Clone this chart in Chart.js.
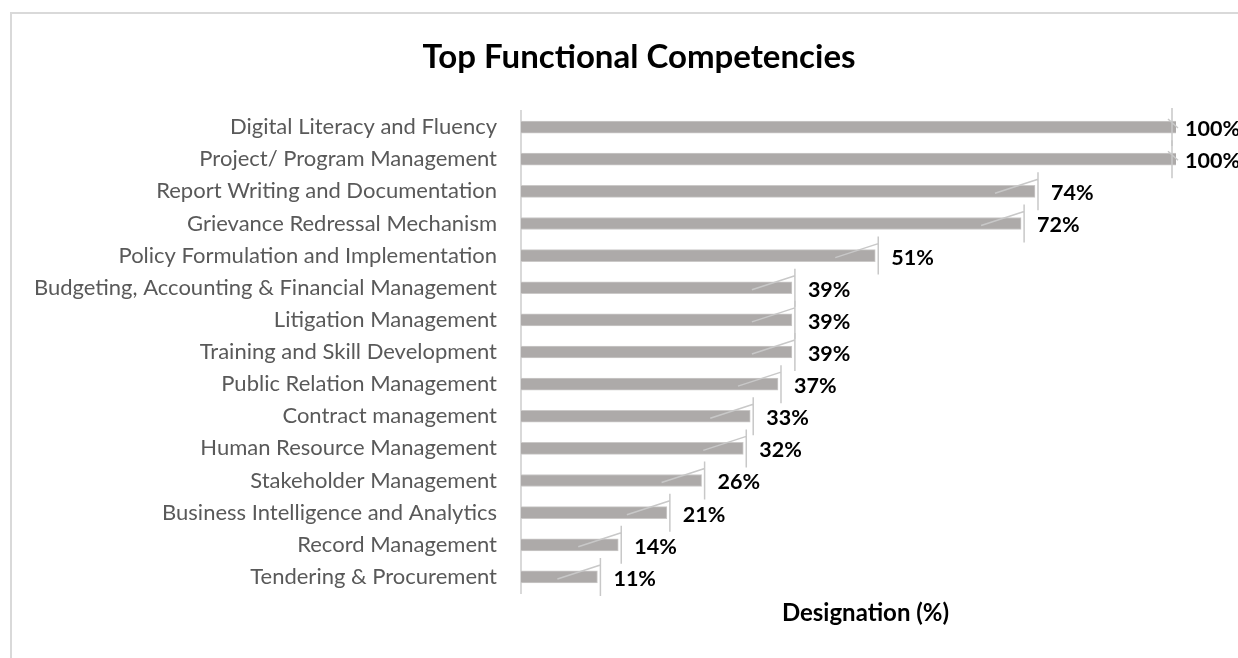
<!DOCTYPE html>
<html>
<head>
<meta charset="utf-8">
<script src="https://cdn.jsdelivr.net/npm/chart.js@4"></script>
<style>
  html, body { margin: 0; padding: 0; background: #fff; overflow: hidden; }
  #frame { position: absolute; left: 10px; top: 12px; width: 1240px; height: 660px; border: 2px solid #d9d9d9; box-sizing: border-box; }
  #wrap { position: absolute; left: 0; top: 0; width: 1238px; height: 658px; }
</style>
</head>
<body>
<div id="frame"></div>
<div id="wrap"><canvas id="chart"></canvas></div>
<script>
// competencies, top to bottom
const competencies = [
  'Digital Literacy and Fluency',
  'Project/ Program Management',
  'Report Writing and Documentation',
  'Grievance Redressal Mechanism',
  'Policy Formulation and Implementation',
  'Budgeting, Accounting & Financial Management',
  'Litigation Management',
  'Training and Skill Development',
  'Public Relation Management',
  'Contract management',
  'Human Resource Management',
  'Stakeholder Management',
  'Business Intelligence and Analytics',
  'Record Management',
  'Tendering & Procurement'
];
const designationPct = [100, 100, 74, 72, 51, 39, 39, 39, 37, 33, 32, 26, 21, 14, 11];
const chartTitle = 'Top Functional Competencies';
const axisTitle = 'Designation (%)';

const FONT = 'Lato, "Open Sans", sans-serif';

// data labels with small leader lines, like the office export,
// plus the two titles (placed off-centre as in the reference)
const labelPlugin = {
  id: 'barLabels',
  afterDatasetsDraw(chart) {
    const ctx = chart.ctx;
    const area = chart.chartArea;
    const meta = chart.getDatasetMeta(0);
    ctx.save();
    meta.data.forEach((bar, i) => {
      const clipped = bar.x > area.right;
      const end = Math.min(bar.x, area.right);
      const top = bar.y - bar.height / 2;
      const bottom = bar.y + bar.height / 2;
      ctx.strokeStyle = '#c8c8c8';
      ctx.lineWidth = 1.5;
      ctx.beginPath();
      if (clipped) {
        ctx.moveTo(end - 4, top - 13);
        ctx.lineTo(end - 4, bottom + 13);
        ctx.moveTo(end - 8, top - 2);
        ctx.lineTo(end + 2, bar.y + 1);
      } else {
        ctx.moveTo(end + 3, top - 13);
        ctx.lineTo(end + 3, bottom + 13);
        ctx.moveTo(end - 40, bar.y + 2);
        ctx.lineTo(end + 3, top - 6);
      }
      ctx.stroke();
      ctx.fillStyle = '#000';
      ctx.font = 'bold 21.5px ' + FONT;
      ctx.textBaseline = 'middle';
      ctx.textAlign = 'left';
      ctx.fillText(designationPct[i] + '%', end + (clipped ? 9 : 16), bar.y + 2);
    });
    ctx.fillStyle = '#000';
    ctx.textAlign = 'center';
    ctx.textBaseline = 'middle';
    ctx.font = 'bold 33px ' + FONT;
    ctx.fillText(chartTitle, 639, 57);
    ctx.font = 'bold 24px ' + FONT;
    ctx.fillText(axisTitle, (area.left + area.right) / 2 + 17, area.bottom + 20);
    ctx.restore();
  }
};

new Chart(document.getElementById('chart'), {
  type: 'bar',
  data: {
    labels: competencies,
    datasets: [{
      data: designationPct,
      backgroundColor: '#adaaa9',
      borderColor: '#cbc9c8',
      borderWidth: 1,
      barThickness: 12,
      clip: 0
    }]
  },
  options: {
    indexAxis: 'y',
    responsive: true,
    maintainAspectRatio: false,
    animation: false,
    layout: { padding: { left: 0, right: 0, top: 111, bottom: 65 } },
    plugins: {
      legend: { display: false },
      tooltip: { enabled: false },
      title: { display: false }
    },
    scales: {
      x: {
        min: 0,
        max: 94.3,
        grid: { display: false, drawTicks: false },
        border: { display: false },
        ticks: { display: false }
      },
      y: {
        grid: { display: false, drawTicks: false },
        border: { display: true, color: '#d9d9d9', width: 2 },
        ticks: {
          color: '#595959',
          font: { family: FONT, size: 22 },
          padding: 24,
          autoSkip: false
        },
        afterFit(scale) { scale.width = 521; }
      },
      // empty strip on the right so the plot ends where the reference does
      yRight: {
        position: 'right',
        type: 'category',
        grid: { display: false, drawTicks: false },
        border: { display: false },
        ticks: { display: false },
        afterFit(scale) { scale.width = 62; }
      }
    }
  },
  plugins: [labelPlugin]
});
</script>
</body>
</html>
